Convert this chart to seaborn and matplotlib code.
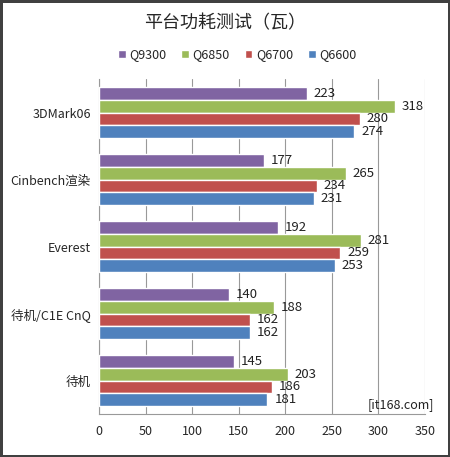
import pandas as pd
import matplotlib.pyplot as plt
import seaborn as sns

# chart data
categories = ['3DMark06', 'Cinbench渲染', 'Everest', '待机/C1E CnQ', '待机']
series = ['Q9300', 'Q6850', 'Q6700', 'Q6600']
q9300 = [223, 177, 192, 140, 145]
q6850 = [318, 265, 281, 188, 203]
q6700 = [280, 234, 259, 162, 186]
q6600 = [274, 231, 253, 162, 181]
colors = ['#8064A2', '#9BBB59', '#C0504D', '#4F81BD']

rows = []
for name, vals in zip(series, [q9300, q6850, q6700, q6600]):
    for cat, v in zip(categories, vals):
        rows.append({'test': cat, 'cpu': name, 'watt': v})
df = pd.DataFrame(rows)

sns.set_style('white')
plt.rcParams['font.family'] = ['Noto Sans CJK SC', 'DejaVu Sans']

fig = plt.figure(figsize=(4.5, 4.57), dpi=100, linewidth=2.5, edgecolor='#404040')
ax = fig.add_axes([0.22, 0.094, 0.724, 0.733])

sns.barplot(data=df, y='test', x='watt', hue='cpu', order=categories,
            hue_order=series, palette=colors, orient='h', width=0.76,
            saturation=1, ax=ax, zorder=3, legend=True)

for cont in ax.containers:
    ax.bar_label(cont, padding=5, fontsize=9.5, color='#222222')

ax.set_xlim(0, 350)
ax.set_ylim(len(categories) - 0.5, -0.5)
ax.set_xticks(range(0, 351, 50))
ax.set_xlabel('')
ax.set_ylabel('')
ax.grid(axis='x', color='#999999', linewidth=0.8, zorder=0)
ax.set_axisbelow(True)
for s in ['top', 'right']:
    ax.spines[s].set_visible(False)
ax.spines['bottom'].set_color('#999999')
ax.spines['left'].set_color('#999999')
ax.tick_params(axis='x', length=4, direction='inout', color='#999999', labelsize=9, pad=6)
ax.tick_params(axis='y', length=0, labelsize=9, pad=6)
ax.set_yticks([i + 0.5 for i in range(len(categories) - 1)], minor=True)
ax.tick_params(axis='y', which='minor', length=4, color='#999999')

handles, labels = ax.get_legend_handles_labels()
ax.legend(handles, labels, loc='center', bbox_to_anchor=(0.425, 1.072),
          ncol=4, frameon=False, fontsize=9, handlelength=0.6, handleheight=0.6,
          handletextpad=0.3, columnspacing=1.2)

fig.text(0.5, 0.948, '平台功耗测试（瓦）', ha='center', va='center', fontsize=13)
fig.text(0.965, 0.115, '[it168.com]', ha='right', va='center', fontsize=9, color='#222222')

fig.savefig('out.png', dpi=100, edgecolor=fig.get_edgecolor())
